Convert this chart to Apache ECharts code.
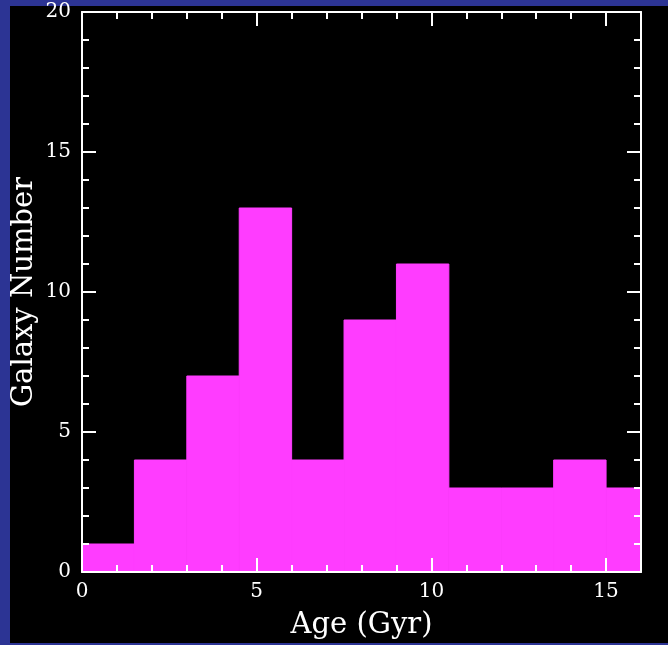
<!DOCTYPE html>
<html>
<head>
<meta charset="utf-8">
<title>Galaxy age histogram</title>
<script src="https://cdn.jsdelivr.net/npm/echarts@6/dist/echarts.min.js"></script>
<style>
  html, body { margin: 0; padding: 0; background: #000; }
  #chart { width: 668px; height: 645px; }
</style>
</head>
<body>
<div id="chart"></div>
<script>
// Histogram of galaxy ages: bin edges (Gyr) and counts per bin
var binEdges = [0, 1.5, 3, 4.5, 6, 7.5, 9, 10.5, 12, 13.5, 15, 16.5];
var counts = [1, 4, 7, 13, 4, 9, 11, 3, 3, 4, 3];

// Axis ranges and tick steps
var xRange = [0, 16];
var yRange = [0, 20];
var majorStep = 5;
var minorStep = 1;

var xTitle = 'Age (Gyr)';
var yTitle = 'Galaxy Number';

var FG = '#ffffff';
var BAR = '#ff3cff';
var FRAME = '#2c3494';
var FONT = 'DejaVu Serif';

var bins = counts.map(function (c, i) { return [binEdges[i], binEdges[i + 1], c]; });

function xAxisDef(pos, step, tickLen, withLine, withLabels) {
  return {
    type: 'value', position: pos, min: xRange[0], max: xRange[1], interval: step,
    z: 10,
    axisLine: { show: withLine, onZero: false, lineStyle: { color: FG, width: 2 } },
    axisTick: { show: true, inside: true, length: tickLen, lineStyle: { color: FG, width: 2 } },
    minorTick: { show: false },
    splitLine: { show: false },
    axisLabel: withLabels ? {
      show: true, color: FG, fontFamily: FONT, fontSize: 20, margin: 10,
      formatter: function (v) { return v % majorStep === 0 ? String(v) : ''; }
    } : { show: false },
    name: withLabels ? xTitle : '',
    nameLocation: 'middle', nameGap: 39, nameMoveOverlap: false,
    nameTextStyle: { color: FG, fontFamily: FONT, fontSize: 29 }
  };
}

function yAxisDef(pos, withLabels) {
  return {
    type: 'value', position: pos, min: yRange[0], max: yRange[1], interval: majorStep,
    z: 10,
    axisLine: { show: true, onZero: false, lineStyle: { color: FG, width: 2 } },
    axisTick: { show: true, inside: true, length: 14, lineStyle: { color: FG, width: 2 } },
    minorTick: { show: true, splitNumber: majorStep / minorStep, length: 7, lineStyle: { color: FG, width: 2 } },
    splitLine: { show: false },
    axisLabel: withLabels ? { show: true, color: FG, fontFamily: FONT, fontSize: 20, margin: 11 } : { show: false },
    name: withLabels ? yTitle : '',
    nameLocation: 'middle', nameGap: 43, nameRotate: 90, nameMoveOverlap: false,
    nameTextStyle: { color: FG, fontFamily: FONT, fontSize: 29 }
  };
}

var chart = echarts.init(document.getElementById('chart'));

chart.setOption({
  backgroundColor: '#000',
  animation: false,
  grid: { left: 82, right: 27, top: 12, bottom: 73, containLabel: false, outerBoundsMode: 'none' },
  xAxis: [
    xAxisDef('bottom', minorStep, 7, true, true),
    xAxisDef('bottom', majorStep, 14, false, false),
    xAxisDef('top', minorStep, 7, true, false),
    xAxisDef('top', majorStep, 14, false, false)
  ],
  yAxis: [yAxisDef('left', true), yAxisDef('right', false)],
  graphic: [
    { type: 'rect', left: 0, top: 0, shape: { width: 10, height: 645 }, style: { fill: FRAME }, silent: true },
    { type: 'rect', left: 0, top: 0, shape: { width: 668, height: 6 }, style: { fill: FRAME }, silent: true },
    { type: 'rect', left: 0, top: 643, shape: { width: 668, height: 2 }, style: { fill: FRAME }, silent: true }
  ],
  series: [{
    type: 'custom',
    xAxisIndex: 0, yAxisIndex: 0,
    clip: true,
    z: 2,
    data: bins,
    encode: { x: [0, 1], y: 2 },
    renderItem: function (params, api) {
      var topLeft = api.coord([api.value(0), api.value(2)]);
      var bottomRight = api.coord([api.value(1), 0]);
      return {
        type: 'rect',
        shape: { x: topLeft[0], y: topLeft[1], width: bottomRight[0] - topLeft[0], height: bottomRight[1] - topLeft[1] },
        style: { fill: BAR, stroke: BAR, lineWidth: 1 }
      };
    }
  }]
});
</script>
</body>
</html>
